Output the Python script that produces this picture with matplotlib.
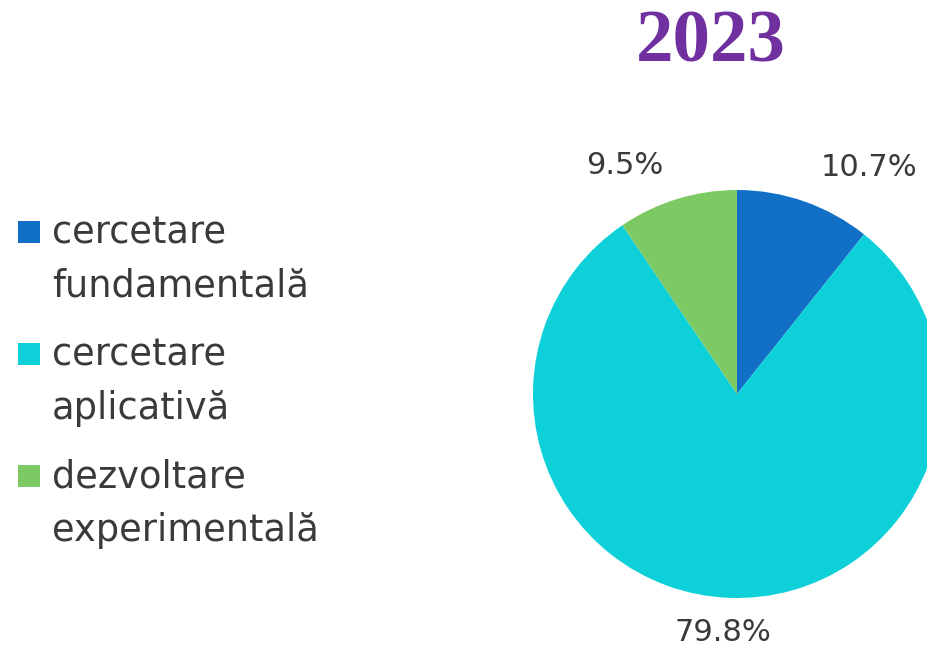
import matplotlib.pyplot as plt
from matplotlib.patches import Rectangle

# data
title = "2023"
categories = ["cercetare\nfundamentală", "cercetare\naplicativă", "dezvoltare\nexperimentală"]
shares = [10.7, 79.8, 9.5]
colors = ["#1170c6", "#0dd0d9", "#7dca64"]

W, H = 928, 653
fig = plt.figure(figsize=(W / 100, H / 100), dpi=100)

# pie axes: centre (737, 394) px, radius 204 px
cx, cy, r = 737, 394, 204
ax = fig.add_axes([(cx - r) / W, (H - cy - r) / H, 2 * r / W, 2 * r / H])
wedges, texts = ax.pie(shares, colors=colors, startangle=90, counterclock=False,
                       labels=[f"{s:.1f}%" for s in shares], labeldistance=1.17,
                       wedgeprops=dict(linewidth=0))
ax.set_xlim(-1, 1)
ax.set_ylim(-1, 1)
ax.set_aspect("equal")
for w in wedges:
    w.set_clip_on(False)

# labels of the small wedges are pushed apart a bit
label_pos = [(0.645, 1.11), (-0.07, -1.17), (-0.55, 1.12)]
for t, p in zip(texts, label_pos):
    t.set_position(p)
    t.set_ha("center")
    t.set_va("center")
    t.set_fontsize(22)
    t.set_color("#3a3a3a")
    t.set_family("DejaVu Sans")

fig.text(711 / W, 1 - 44 / H, title, ha="center", va="center",
         fontsize=54, fontweight="bold", family="Liberation Serif", color="#7030a0")

# legend on the left
for i, (lab, c) in enumerate(zip(categories, colors)):
    base = 243 + 122 * i
    fig.patches.append(Rectangle((18 / W, 1 - base / H), 22 / W, 22 / H,
                                 transform=fig.transFigure, color=c, lw=0))
    for j, line in enumerate(lab.split("\n")):
        fig.text(52 / W, 1 - (base + 54 * j) / H, line, ha="left", va="baseline",
                 fontsize=26.5, family="DejaVu Sans", color="#3a3a3a")

fig.savefig("out.png", dpi=100)
